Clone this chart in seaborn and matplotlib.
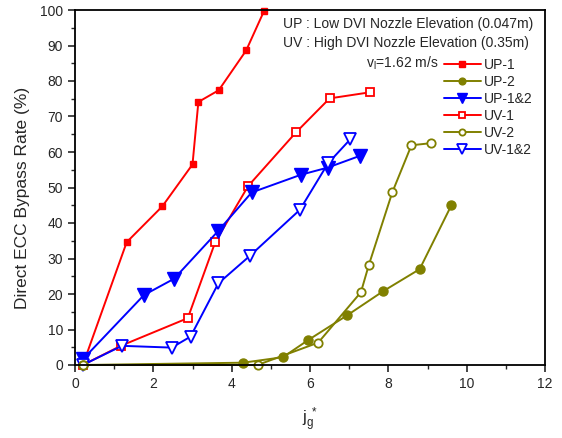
import pandas as pd
import seaborn as sns
import matplotlib.pyplot as plt
from matplotlib.ticker import MultipleLocator

# j_g* values and bypass rate (%)
up1_x = [0.2, 1.32, 2.23, 3.0, 3.15, 3.67, 4.37, 4.83]
up1_y = [0.0, 34.6, 44.7, 56.5, 74.1, 77.4, 88.6, 99.8]

up2_x = [0.2, 4.29, 5.31, 5.95, 6.95, 7.87, 8.8, 9.61]
up2_y = [0.0, 0.65, 2.2, 7.0, 14.0, 20.8, 27.0, 45.0]

up12_x = [0.2, 1.76, 2.53, 3.66, 4.51, 5.77, 6.45, 7.27]
up12_y = [1.6, 19.7, 24.3, 37.8, 48.6, 53.6, 55.6, 58.9]

uv1_x = [0.2, 1.17, 2.88, 3.58, 4.42, 5.64, 6.5, 7.52]
uv1_y = [0.0, 5.4, 13.2, 34.6, 50.4, 65.5, 75.1, 76.8]

uv2_x = [0.2, 4.66, 6.21, 7.3, 7.5, 8.1, 8.59, 9.1]
uv2_y = [0.0, 0.0, 6.3, 20.5, 28.1, 48.6, 61.9, 62.5]

uv12_x = [0.2, 1.2, 2.47, 2.95, 3.66, 4.46, 5.74, 6.46, 7.03]
uv12_y = [0.0, 5.4, 4.9, 8.0, 23.0, 30.7, 43.7, 56.8, 63.6]

RED = "#ff0000"
OLIVE = "#808000"
BLUE = "#0000ff"

sns.set_style("ticks")
plt.rcParams["font.family"] = ["Liberation Sans", "DejaVu Sans"]
plt.rcParams["mathtext.fontset"] = "custom"
plt.rcParams["mathtext.rm"] = "Liberation Sans"
plt.rcParams["mathtext.it"] = "Liberation Sans"

fig = plt.figure(figsize=(5.62, 4.38), dpi=100)
ax = fig.add_axes([75 / 562, 1 - 365 / 438, 470 / 562, 355 / 438])

series = [
    ("UP-1", up1_x, up1_y, dict(color=RED, marker="s", markersize=5, mfc=RED, mec=RED, mew=1.0)),
    ("UV-1", uv1_x, uv1_y, dict(color=RED, marker="s", markersize=5.2, mfc="white", mec=RED, mew=1.3)),
    ("UP-1&2", up12_x, up12_y, dict(color=BLUE, marker="v", markersize=10, mfc=BLUE, mec=BLUE, mew=1.0)),
    ("UV-1&2", uv12_x, uv12_y, dict(color=BLUE, marker="v", markersize=9, mfc="white", mec=BLUE, mew=1.3)),
    ("UP-2", up2_x, up2_y, dict(color=OLIVE, marker="o", markersize=6.5, mfc=OLIVE, mec=OLIVE, mew=1.0)),
    ("UV-2", uv2_x, uv2_y, dict(color=OLIVE, marker="o", markersize=6, mfc="white", mec=OLIVE, mew=1.3)),
]

for name, xs, ys, style in series:
    df = pd.DataFrame({"jg": xs, "rate": ys})
    sns.lineplot(data=df, x="jg", y="rate", sort=False, ax=ax, label=name,
                 linewidth=1.4, clip_on=False, **style)

ax.set_xlim(0, 12)
ax.set_ylim(0, 100)
ax.xaxis.set_major_locator(MultipleLocator(2))
ax.xaxis.set_minor_locator(MultipleLocator(1))
ax.yaxis.set_major_locator(MultipleLocator(10))
ax.yaxis.set_minor_locator(MultipleLocator(5))
ax.tick_params(which="major", length=5, width=1.2, labelsize=10, direction="out")
ax.tick_params(which="minor", length=3, width=1.0, direction="out")
for sp in ax.spines.values():
    sp.set_visible(True)
    sp.set_linewidth(1.3)
    sp.set_color("black")

ax.set_xlabel(r"$\mathregular{j_g^{\ *}}$", fontsize=12, labelpad=11)
ax.set_ylabel("Direct ECC Bypass Rate (%)", fontsize=12.5)
ax.yaxis.set_label_coords(-0.096, 0.47)

ax.text(283 / 562, 1 - 24 / 438, "UP : Low DVI Nozzle Elevation (0.047m)",
        transform=fig.transFigure, fontsize=10, va="center", ha="left")
ax.text(283 / 562, 1 - 42.5 / 438, "UV : High DVI Nozzle Elevation (0.35m)",
        transform=fig.transFigure, fontsize=10, va="center", ha="left")
ax.text(438 / 562, 1 - 63 / 438, r"v$_\mathregular{l}$=1.62 m/s",
        transform=fig.transFigure, fontsize=10, va="center", ha="right")

handles, labels = ax.get_legend_handles_labels()
order = ["UP-1", "UP-2", "UP-1&2", "UV-1", "UV-2", "UV-1&2"]
hmap = dict(zip(labels, handles))
ax.legend([hmap[k] for k in order], order, loc="upper left",
          bbox_to_anchor=(444 / 562, 1 - 58 / 438), bbox_transform=fig.transFigure,
          frameon=False, fontsize=10, handlelength=2.66, handletextpad=0.2,
          labelspacing=0.22, borderpad=0, borderaxespad=0, markerscale=0.75)

fig.savefig("out.png", dpi=100)
